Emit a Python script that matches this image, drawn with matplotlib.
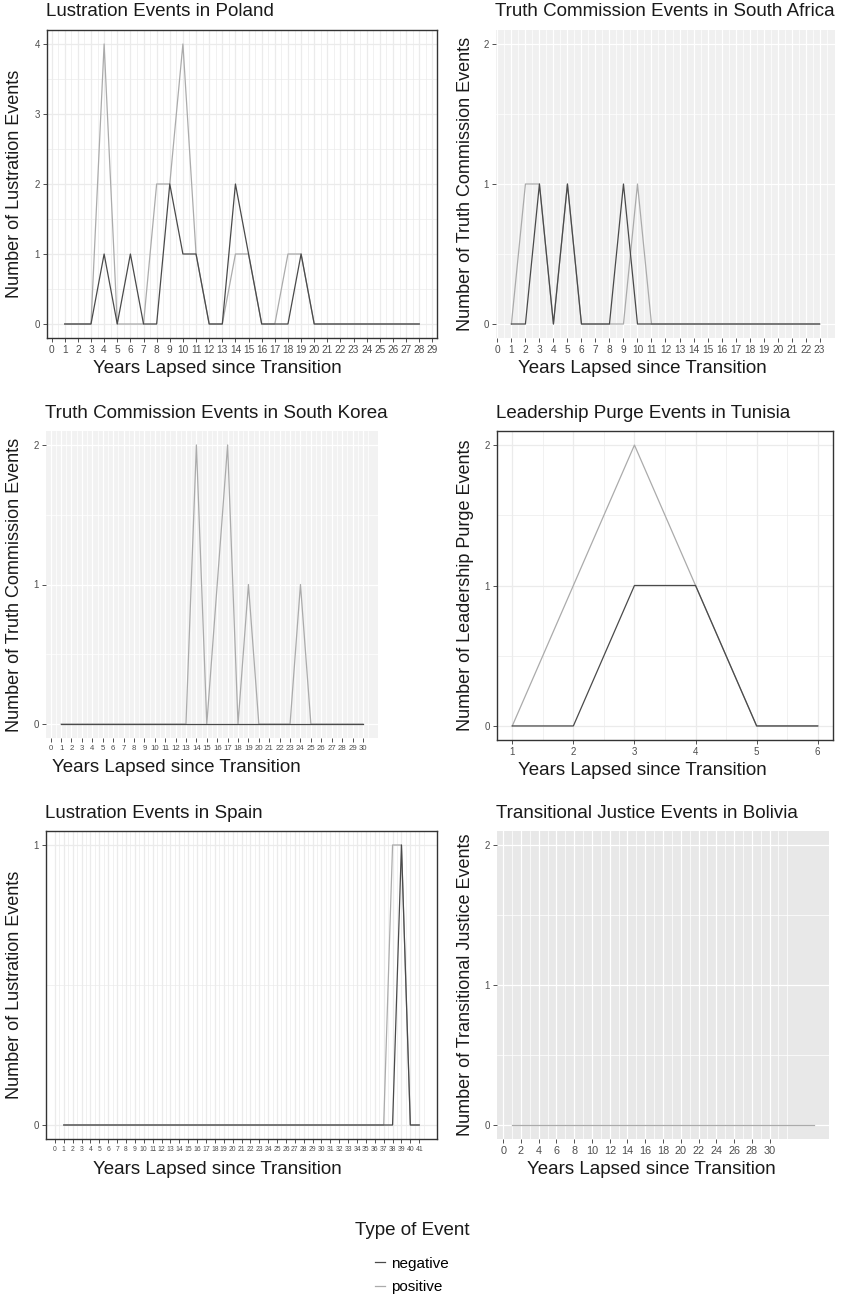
import numpy as np
import matplotlib
matplotlib.use("Agg")
import matplotlib.pyplot as plt

plt.rcParams['font.family'] = ['Liberation Sans', 'DejaVu Sans']

# Data
poland_years = list(range(1, 29))
poland_neg = [0, 0, 0, 1, 0, 1, 0, 0, 2, 1, 1, 0, 0, 2, 1, 0, 0, 0, 1, 0, 0, 0, 0, 0, 0, 0, 0, 0]
poland_pos = [0, 0, 0, 4, 0, 0, 0, 2, 2, 4, 1, 0, 0, 1, 1, 0, 0, 1, 1, 0, 0, 0, 0, 0, 0, 0, 0, 0]

safrica_years = list(range(1, 24))
safrica_neg = [0, 0, 1, 0, 1, 0, 0, 0, 1, 0, 0, 0, 0, 0, 0, 0, 0, 0, 0, 0, 0, 0, 0]
safrica_pos = [0, 1, 1, 0, 1, 0, 0, 0, 0, 1, 0, 0, 0, 0, 0, 0, 0, 0, 0, 0, 0, 0, 0]

skorea_years = list(range(1, 31))
skorea_neg = [0, 0, 0, 0, 0, 0, 0, 0, 0, 0, 0, 0, 0, 0, 0,
              0, 0, 0, 0, 0, 0, 0, 0, 0, 0, 0, 0, 0, 0, 0]
skorea_pos = [0, 0, 0, 0, 0, 0, 0, 0, 0, 0, 0, 0, 0, 2, 0,
              1, 2, 0, 1, 0, 0, 0, 0, 1, 0, 0, 0, 0, 0, 0]

tunisia_years = [1, 2, 3, 4, 5, 6]
tunisia_neg = [0, 0, 1, 1, 0, 0]
tunisia_pos = [0, 1, 2, 1, 0, 0]

spain_years = list(range(1, 42))
spain_neg = [0, 0, 0, 0, 0, 0, 0, 0, 0, 0, 0, 0, 0, 0, 0, 0, 0, 0, 0, 0,
             0, 0, 0, 0, 0, 0, 0, 0, 0, 0, 0, 0, 0, 0, 0, 0, 0, 0, 1, 0, 0]
spain_pos = [0, 0, 0, 0, 0, 0, 0, 0, 0, 0, 0, 0, 0, 0, 0, 0, 0, 0, 0, 0,
             0, 0, 0, 0, 0, 0, 0, 0, 0, 0, 0, 0, 0, 0, 0, 0, 0, 1, 1, 0, 0]

bolivia_years = list(range(1, 36))
bolivia_pos = [0, 0, 0, 0, 0, 0, 0, 0, 0, 0, 0, 0, 0, 0, 0, 0, 0, 0,
               0, 0, 0, 0, 0, 0, 0, 0, 0, 0, 0, 0, 0, 0, 0, 0, 0]

NEG_COL = '#4a4a4a'
POS_COL = '#ababab'
W, H = 841, 1301


def px_axes(fig, l, r, t, b):
    return fig.add_axes([l / W, 1 - b / H, (r - l) / W, (b - t) / H])


def style_panel(ax, kind, xmin, xmax, ymax, xticks, minor_x, tick_fs, bg=None):
    ex = 0.05 * (xmax - xmin)
    ax.set_xlim(xmin - ex, xmax + ex)
    ax.set_ylim(-0.05 * ymax, ymax * 1.05)
    ax.set_xticks(xticks)
    ax.set_yticks(range(0, ymax + 1))
    if kind == 'bw':
        ax.set_facecolor('white')
        grid_col = '#ebebeb'
        for s in ax.spines.values():
            s.set_color('#333333')
            s.set_linewidth(1.0)
    else:
        ax.set_facecolor(bg)
        grid_col = 'white'
        for s in ax.spines.values():
            s.set_visible(False)
    for x in xticks:
        ax.axvline(x, color=grid_col, lw=0.9, zorder=0)
    for x in minor_x:
        ax.axvline(x, color=grid_col, lw=0.5, zorder=0)
    for y in range(0, ymax + 1):
        ax.axhline(y, color=grid_col, lw=0.9, zorder=0)
    for y in np.arange(0.5, ymax, 1.0):
        ax.axhline(y, color=grid_col, lw=0.5, zorder=0)
    ax.tick_params(axis='x', labelsize=tick_fs, colors='#333333', labelcolor='#4d4d4d',
                   length=3, width=0.6, pad=2)
    ax.tick_params(axis='y', labelsize=7, colors='#333333', labelcolor='#4d4d4d',
                   length=3, width=0.6, pad=2)


fig = plt.figure(figsize=(W / 100, H / 100), dpi=100)

panels = [
    # (rect, kind, bg, years, neg, pos, ymax, xticks, minor, tick_fs, title, ylabel, xlab_cx, ylab_x)
    ((47, 437, 30, 338), 'bw', None, poland_years, poland_neg, poland_pos, 4,
     list(range(0, 30)), list(np.arange(0.5, 29, 1.0)), 7.3,
     'Lustration Events in Poland', 'Number of Lustration Events', 217, 15),
    ((496, 835, 30, 338), 'gray', '#f0f0f0', safrica_years, safrica_neg, safrica_pos, 2,
     list(range(0, 24)), list(np.arange(0.5, 24, 1.0)), 7.3,
     'Truth Commission Events in South Africa', 'Number of Truth Commission Events', 642, 465),
    ((46, 378, 431, 738), 'gray', '#f2f2f2', skorea_years, skorea_neg, skorea_pos, 2,
     list(range(0, 31)), list(np.arange(0.5, 31, 1.0)), 5.6,
     'Truth Commission Events in South Korea', 'Number of Truth Commission Events', 176, 15),
    ((497, 833, 431, 740), 'bw', None, tunisia_years, tunisia_neg, tunisia_pos, 2,
     [1, 2, 3, 4, 5, 6], [1.5, 2.5, 3.5, 4.5, 5.5], 7,
     'Leadership Purge Events in Tunisia', 'Number of Leadership Purge Events', 642, 465),
    ((46, 437, 831, 1139), 'bw', None, spain_years, spain_neg, spain_pos, 1,
     list(range(0, 42)), list(np.arange(0.5, 42, 1.0)), 4.9,
     'Lustration Events in Spain', 'Number of Lustration Events', 217, 15),
    ((497, 829, 831, 1139), 'gray', '#e8e8e8', bolivia_years, None, bolivia_pos, 2,
     list(range(0, 31, 2)), [1, 3, 5, 7, 9, 11, 13, 15, 17, 19, 21, 23, 25, 27, 29, 31, 32], 7.8,
     'Transitional Justice Events in Bolivia', 'Number of Transitional Justice Events', 651, 465),
]

handles = None
for (rect, kind, bg, yrs, neg, pos, ymax, xt, mx, tfs, title, ylab, xcx, ylx) in panels:
    l, r, t, b = rect
    ax = px_axes(fig, l, r, t, b)
    style_panel(ax, kind, yrs[0], yrs[-1], ymax, xt, mx, tfs, bg)
    hp, = ax.plot(yrs, pos, color=POS_COL, lw=0.9, label='positive', zorder=2)
    if neg is not None:
        hn, = ax.plot(yrs, neg, color=NEG_COL, lw=0.9, label='negative', zorder=3)
        if handles is None:
            handles = [hn, hp]
    fig.text((l - 1) / W, 1 - (t - 18) / H, title, fontsize=13.5, ha='left', va='center',
             color='#1a1a1a')
    fig.text(xcx / W, 1 - (b + 30) / H, 'Years Lapsed since Transition', fontsize=13.5,
             ha='center', va='center', color='#1a1a1a')
    fig.text(ylx / W, 1 - ((t + b) / 2) / H, ylab, fontsize=13, rotation=90,
             ha='center', va='center', color='#1a1a1a')

leg = fig.legend(handles, ['negative', 'positive'], loc='upper center',
                 bbox_to_anchor=(412 / W, 1 - 1208 / H), frameon=False,
                 title='Type of Event', fontsize=11, title_fontsize=13.5,
                 handlelength=0.6, handletextpad=0.4, labelspacing=0.6)
leg.get_title().set_color('#1a1a1a')
leg._legend_box.sep = 13

fig.savefig('out.png', dpi=100)
